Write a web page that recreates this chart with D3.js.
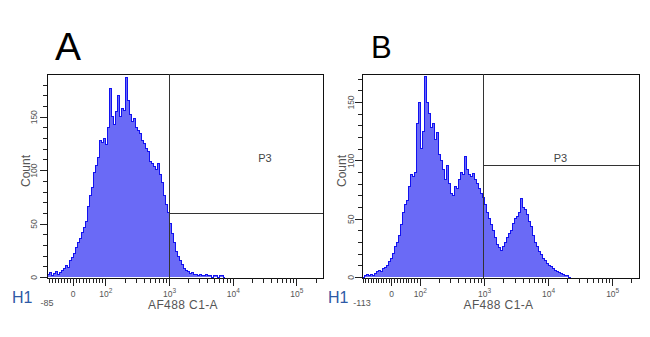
<!DOCTYPE html>
<html><head><meta charset="utf-8">
<script src="https://cdn.jsdelivr.net/npm/d3@7"></script>
<style>body{margin:0;background:#fff}svg{display:block}</style>
</head><body>
<svg id="c" width="650" height="337"></svg>
<script>
// ---------- DATA ----------
// Histogram counts per display channel (channels equally spaced on the biexponential axis)
const countsA = [2,4,1,3,5,2,4,6,8,11,9,15,18,22,28,32,36,42,46,52,66,76,84,98,104,112,128,126,130,124,140,176,150,143,155,170,150,158,156,187,165,152,146,148,140,137,134,128,125,120,117,108,106,103,101,106,96,88,76,68,60,50,41,32,24,19,15,12,8,6,5,3,4,2,2,1,2,1,1,2,1,1,0,1,1,0,1,1,0];
const countsB = [0,1,2,1,2,1,3,5,6,5,7,8,10,13,16,20,26,30,36,45,55,62,66,78,88,86,90,132,150,110,125,172,150,140,128,132,118,124,105,100,92,84,96,80,72,70,78,76,84,90,88,103,92,88,86,89,84,80,76,72,68,62,55,50,45,40,34,28,25,23,26,30,34,37,40,46,50,52,55,67,60,58,54,48,43,36,30,26,22,19,16,14,12,10,9,7,6,5,4,3,2,1,1,0];
const nChannels = 138;
const panelNames = ["A", "B"];
const xMinValues = [-85, -113];
const xMaxValue = 262144;
const yMaxValues = [190, 174];
const yTickMax = [180, 170];
const yLabelTicks = [0, 50, 100, 150];
const xMajorTicks = [0, 100, 1000, 10000, 100000];
const xMajorLabels = ["0", "10|2", "10|3", "10|4", "10|5"];
const gateXValues = [1000, 1000];
const gateYValues = [59, 96];
const gateName = "P3";
const xTitle = "AF488 C1-A";
const yTitle = "Count";
const histName = "H1";

// ---------- LAYOUT ----------
const layout = [
  {x0:47, x1:323, top:74, bottom:278, base:277, L:82.8, negS:0.9,
   letterX:55, letterY:60, letterSize:39, p3X:265, countX:30, tickLabX:-10, h1X:12},
  {x0:362, x1:639, top:74, bottom:278, base:277, L:96.6, negS:0.894,
   letterX:371, letterY:57.5, letterSize:31, p3X:560.5, countX:346, tickLabX:-8, h1X:328}
];

function logicleLike(L, negS, dMin, dMax, r0, r1){
  const a = 1/Math.LN10;
  const T = v => v >= L ? a + Math.log10(v/L) : (v >= 0 ? a*v/L : negS*a*v/L);
  const Ti = t => t >= a ? L*Math.pow(10, t-a) : (t >= 0 ? t*L/a : t*L/(a*negS));
  const lin = d3.scaleLinear().domain([T(dMin), T(dMax)]).range([r0, r1]);
  function s(v){ return lin(T(v)); }
  s.invert = p => Ti(lin.invert(p));
  s.domain = () => [dMin, dMax];
  s.range = () => [r0, r1];
  s.copy = () => logicleLike(L, negS, dMin, dMax, r0, r1);
  return s;
}

function minorTicks(xMin){
  const t = [];
  for (let v = -10; v >= xMin; v -= 10) t.push(v);
  for (let v = 10; v < 100; v += 10) t.push(v);
  [100, 1000, 10000, 100000].forEach(d => { for (let k = 2; k <= 9; k++) if (d*k <= xMaxValue) t.push(d*k); });
  return t;
}

const svg = d3.select("#c");
const font = "'Liberation Sans', Arial, sans-serif";
const countsList = [countsA, countsB];

layout.forEach((P, pi) => {
  const g = svg.append("g");
  const x = logicleLike(P.L, P.negS, xMinValues[pi], xMaxValue, P.x0, P.x1);
  const y = d3.scaleLinear().domain([0, yMaxValues[pi]]).range([P.base, P.top]);

  // panel letter
  g.append("text").attr("x", P.letterX).attr("y", P.letterY)
    .attr("font-family", font).attr("font-size", P.letterSize).attr("fill", "#000")
    .text(panelNames[pi]);

  // clip
  const cid = "clip" + pi;
  svg.append("clipPath").attr("id", cid).append("rect")
    .attr("x", P.x0).attr("y", P.top).attr("width", P.x1 - P.x0).attr("height", P.bottom - P.top);

  // histogram bins
  const counts = countsList[pi];
  const step = (P.x1 - P.x0) / nChannels;
  const bins = counts.map((c, i) => ({v0: x.invert(P.x0 + i*step), c}));
  bins.push({v0: x.invert(P.x0 + counts.length*step), c: 0});
  const area = d3.area().x(d => x(d.v0)).y0(y(0)).y1(d => y(d.c)).curve(d3.curveStepAfter);
  const line = d3.line().x(d => x(d.v0)).y(d => y(d.c)).curve(d3.curveStepAfter);
  const hg = g.append("g").attr("clip-path", `url(#${cid})`);
  hg.append("path").datum(bins).attr("d", area).attr("fill", "#6a6af6");
  hg.append("path").datum(bins).attr("d", line).attr("fill", "none")
    .attr("stroke", "#1212f0").attr("stroke-width", 1).attr("shape-rendering", "crispEdges");

  // box
  g.append("rect").attr("x", P.x0).attr("y", P.top).attr("width", P.x1 - P.x0).attr("height", P.bottom - P.top)
    .attr("fill", "none").attr("stroke", "#111").attr("stroke-width", 1).attr("shape-rendering", "crispEdges");

  // gate
  const gx = x(gateXValues[pi]), gy = y(gateYValues[pi]);
  g.append("line").attr("x1", gx).attr("x2", gx).attr("y1", P.top).attr("y2", P.bottom)
    .attr("stroke", "#333").attr("shape-rendering", "crispEdges");
  g.append("line").attr("x1", gx).attr("x2", P.x1).attr("y1", gy).attr("y2", gy)
    .attr("stroke", "#333").attr("shape-rendering", "crispEdges");
  g.append("text").attr("x", P.p3X).attr("y", 161.5).attr("text-anchor", "middle")
    .attr("font-family", font).attr("font-size", 11).attr("fill", "#444").text(gateName);

  // x axis minor
  const xa = g.append("g").attr("transform", `translate(0,${P.bottom})`).attr("color", "#222");
  xa.call(d3.axisBottom(x).tickValues(minorTicks(xMinValues[pi])).tickSize(5).tickFormat(""));
  xa.select(".domain").remove();
  xa.selectAll("line").attr("shape-rendering", "crispEdges");
  const xb = g.append("g").attr("transform", `translate(0,${P.bottom})`).attr("color", "#222");
  xb.call(d3.axisBottom(x).tickValues(xMajorTicks).tickSize(8).tickPadding(5).tickFormat((d, i) => xMajorLabels[i]));
  xb.select(".domain").remove();
  xb.selectAll("line").attr("shape-rendering", "crispEdges");
  xb.selectAll("text").attr("font-family", font).attr("font-size", 8.5).attr("fill", "#555")
    .each(function(){
      const t = d3.select(this); const parts = t.text().split("|");
      t.text(null);
      t.append("tspan").text(parts[0]);
      if (parts[1]) t.append("tspan").attr("dy", "-4").attr("font-size", 6.5).text(parts[1]);
    });
  // min label
  g.append("text").attr("x", x(xMinValues[pi])).attr("y", 306).attr("text-anchor", "middle")
    .attr("font-family", font).attr("font-size", 9).attr("fill", "#555").text(xMinValues[pi]);
  // H1
  g.append("text").attr("x", P.h1X).attr("y", 303).attr("font-family", font).attr("font-size", 16)
    .attr("fill", "#2e5aa6").text(histName);
  // x title
  g.append("text").attr("x", (P.x0 + P.x1)/2 - 2).attr("y", 309).attr("text-anchor", "middle")
    .attr("font-family", font).attr("font-size", 12).attr("letter-spacing", 0.4).attr("fill", "#555").text(xTitle);

  // y axis
  const ya = g.append("g").attr("transform", `translate(${P.x0},0)`).attr("color", "#222");
  ya.call(d3.axisLeft(y).tickValues(d3.range(0, yTickMax[pi] + 1, 10)).tickSize(4).tickFormat(""));
  ya.select(".domain").remove();
  ya.selectAll("line").attr("shape-rendering", "crispEdges");
  const yb = g.append("g").attr("transform", `translate(${P.x0},0)`).attr("color", "#222");
  yb.call(d3.axisLeft(y).tickValues(yLabelTicks).tickSize(7).tickFormat(d3.format("d")));
  yb.select(".domain").remove();
  yb.selectAll("line").attr("shape-rendering", "crispEdges");
  yb.selectAll("text").attr("x", 0).attr("dy", 0).attr("text-anchor", "middle")
    .attr("transform", `translate(${P.tickLabX},0) rotate(-90)`)
    .attr("font-family", font).attr("font-size", 8.5).attr("fill", "#555");
  g.append("text").attr("transform", `translate(${P.countX},${(P.top + P.bottom)/2 - 5}) rotate(-90)`)
    .attr("text-anchor", "middle").attr("font-family", font).attr("font-size", 12).attr("fill", "#555").text(yTitle);
});
</script>
</body></html>
